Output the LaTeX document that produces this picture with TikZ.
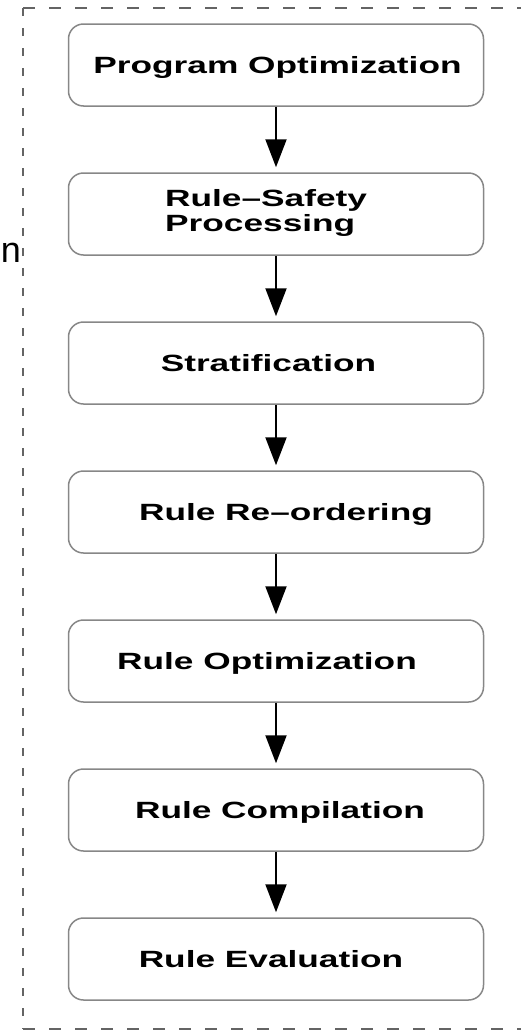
\documentclass[tikz,border=0pt]{standalone}
\usepackage{fontspec}
\setmainfont{Liberation Sans}
\newfontfamily\widebold[FakeStretch=1.5]{Liberation Sans Bold}
\usetikzlibrary{arrows.meta}

\definecolor{framegray}{RGB}{100,100,100}
\definecolor{boxgray}{RGB}{135,135,135}

\tikzset{
  stagebox/.style={draw=boxgray, line width=1.5pt, rounded corners=15pt,
    minimum width=415pt, minimum height=82pt, inner sep=0pt, fill=white},
  stagetext/.style={font=\widebold\fontsize{23.5}{23.5}\selectfont,
    inner sep=0pt, anchor=base},
  flow/.style={line width=2pt, black, shorten >=5pt,
    -{Triangle[width=21pt,length=28pt]}},
  hframe/.style={draw=framegray, line width=2pt, dash pattern=on 12pt off 14pt},
  vframe/.style={draw=framegray, line width=2.8pt, dash pattern=on 8pt off 12pt}
}

\begin{document}
\begin{tikzpicture}[x=1pt, y=-1pt]
  \useasboundingbox (0,0) rectangle (521,1031);

  % dashed enclosure (its right side lies beyond the visible part)
  \coordinate (ftl) at (23,8);
  \coordinate (ftr) at (535,8);
  \coordinate (fbl) at (23,1029);
  \coordinate (fbr) at (535,1029);
  \draw[hframe] (ftl) -- (ftr);
  \draw[hframe] (fbl) -- (fbr);
  \draw[vframe] (ftl) -- (fbl);

  % last letter of a neighbouring label
  \node[font=\fontsize{36}{36}\selectfont, inner sep=0pt, anchor=base east] (nl) at (21,262) {n};

  % stage boxes
  \node[stagebox] (b1) at (276,65) {};
  \node[stagebox] (b2) at (276,214) {};
  \node[stagebox] (b3) at (276,363) {};
  \node[stagebox] (b4) at (276,512) {};
  \node[stagebox] (b5) at (276,661) {};
  \node[stagebox] (b6) at (276,810) {};
  \node[stagebox] (b7) at (276,959) {};

  % stage labels
  \node[stagetext] (t1) at (277.5,73.4) {Program Optimization};
  \node[stagetext, anchor=base west] (t2a) at (165,206) {Rule–Safety};
  \node[stagetext, anchor=base west] (t2b) at (165,231) {Processing};
  \node[stagetext] (t3) at (268.5,371.4) {Stratification};
  \node[stagetext] (t4) at (286,520.4) {Rule Re–ordering};
  \node[stagetext] (t5) at (267,669.4) {Rule Optimization};
  \node[stagetext] (t6) at (280,818.4) {Rule Compilation};
  \node[stagetext] (t7) at (271,967.4) {Rule Evaluation};

  % flow arrows
  \draw[flow] (b1.south) -- (b2.north);
  \draw[flow] (b2.south) -- (b3.north);
  \draw[flow] (b3.south) -- (b4.north);
  \draw[flow] (b4.south) -- (b5.north);
  \draw[flow] (b5.south) -- (b6.north);
  \draw[flow] (b6.south) -- (b7.north);
\end{tikzpicture}
\end{document}
